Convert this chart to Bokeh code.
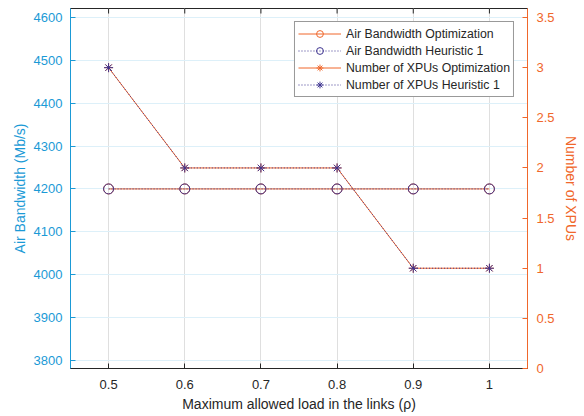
from bokeh.plotting import figure
from bokeh.models import Range1d, LinearAxis, FixedTicker, Legend, LegendItem
from bokeh.embed import file_html
from bokeh.resources import INLINE

# ---- data ----
load = [0.5, 0.6, 0.7, 0.8, 0.9, 1.0]
bw_opt = [4200, 4200, 4200, 4200, 4200, 4200]
bw_heur = [4200, 4200, 4200, 4200, 4200, 4200]
xpu_opt = [3, 2, 2, 2, 1, 1]
xpu_heur = [3, 2, 2, 2, 1, 1]

x_ticks = [0.5, 0.6, 0.7, 0.8, 0.9, 1.0]
x_tick_labels = ["0.5", "0.6", "0.7", "0.8", "0.9", "1"]
left_ticks = [3800, 3900, 4000, 4100, 4200, 4300, 4400, 4500, 4600]
right_ticks = [0, 0.5, 1, 1.5, 2, 2.5, 3, 3.5]
right_tick_labels = ["0", "0.5", "1", "1.5", "2", "2.5", "3", "3.5"]

labels = ["Air Bandwidth Optimization", "Air Bandwidth Heuristic 1",
          "Number of XPUs Optimization", "Number of XPUs Heuristic 1"]

# ---- style ----
FONT = "Liberation Sans"
BLUE_AX = "#1b9ad6"
ORANGE_AX = "#f0672b"
OPT_C = "#f0672b"
HEUR_C = "#3d338f"
DARK = "#262626"
X_MIN, X_MAX = 0.45, 1.05
Y_MIN, Y_MAX = 3781, 4621
FRAME_W, FRAME_H = 457, 360
TICK_LEN = 5

p = figure(frame_width=FRAME_W, frame_height=FRAME_H, x_range=Range1d(X_MIN, X_MAX),
           y_range=Range1d(Y_MIN, Y_MAX), output_backend="svg",
           toolbar_location=None, min_border_left=70, min_border_right=47,
           min_border_top=8, min_border_bottom=39)
p.extra_y_ranges = {"xpu": Range1d(0, 3.59)}
p.outline_line_color = DARK
p.background_fill_color = "white"
p.border_fill_color = "white"

ax_b = p.below[0]
ax_l = p.left[0]

def style_axis(ax, color, size="13px"):
    ax.axis_line_color = color
    ax.major_tick_line_color = color
    ax.major_tick_in = TICK_LEN
    ax.major_tick_out = 0
    ax.minor_tick_line_color = None
    ax.major_label_text_color = color
    ax.major_label_text_font = FONT
    ax.major_label_text_font_size = size
    ax.axis_label_text_color = color
    ax.axis_label_text_font = FONT
    ax.axis_label_text_font_size = "14px"
    ax.axis_label_text_font_style = "normal"

style_axis(ax_b, DARK)
ax_b.ticker = FixedTicker(ticks=x_ticks)
ax_b.major_label_overrides = {t: l for t, l in zip(x_ticks, x_tick_labels)}
ax_b.axis_label = "Maximum allowed load in the links (ρ)"
ax_b.major_label_standoff = 11
ax_b.axis_label_standoff = 4

style_axis(ax_l, BLUE_AX)
ax_l.ticker = FixedTicker(ticks=left_ticks)
ax_l.axis_label = "Air Bandwidth (Mb/s)"
ax_l.major_label_standoff = 8
ax_l.axis_label_standoff = 3

ax_r = LinearAxis(y_range_name="xpu")
style_axis(ax_r, ORANGE_AX)
ax_r.ticker = FixedTicker(ticks=right_ticks)
ax_r.major_label_overrides = {t: l for t, l in zip(right_ticks, right_tick_labels)}
ax_r.axis_label = "Number of XPUs"
ax_r.major_label_standoff = 9
ax_r.axis_label_standoff = 5
p.add_layout(ax_r, "right")

p.xgrid.grid_line_color = "#dfdfdf"
p.ygrid.grid_line_color = "#ddf0f9"

# top box tick marks (MATLAB "box on" style), length derived from the range
top_tick_len = TICK_LEN * (Y_MAX - Y_MIN) / FRAME_H
p.segment(x0=x_ticks, y0=[Y_MAX] * len(x_ticks), x1=x_ticks,
          y1=[Y_MAX - top_tick_len] * len(x_ticks), line_color=DARK, line_width=1)

# ---- glyphs ----
r1l = p.line(load, bw_opt, line_color=OPT_C, line_width=1)
r1m = p.scatter(load, bw_opt, marker="circle", size=10, line_color=OPT_C,
                fill_color=None, line_width=1)
r3l = p.line(load, xpu_opt, line_color=OPT_C, line_width=1, y_range_name="xpu")
r3m = p.scatter(load, xpu_opt, marker="asterisk", size=9, line_color=OPT_C,
                line_width=1, y_range_name="xpu")
r2l = p.line(load, bw_heur, line_color=HEUR_C, line_width=1, line_dash="1 2")
r2m = p.scatter(load, bw_heur, marker="circle", size=10, line_color=HEUR_C,
                fill_color=None, line_width=1)
r4l = p.line(load, xpu_heur, line_color=HEUR_C, line_width=1, line_dash="1 2",
             y_range_name="xpu")
r4m = p.scatter(load, xpu_heur, marker="asterisk", size=9, line_color=HEUR_C,
                line_width=1, y_range_name="xpu")

legend = Legend(items=[
    LegendItem(label=labels[0], renderers=[r1l, r1m]),
    LegendItem(label=labels[1], renderers=[r2l, r2m]),
    LegendItem(label=labels[2], renderers=[r3l, r3m]),
    LegendItem(label=labels[3], renderers=[r4l, r4m]),
], location="top_right", margin=13, padding=3, spacing=0,
    glyph_width=43, glyph_height=17, label_height=17, label_standoff=5,
    label_text_font=FONT, label_text_font_size="12.3px", label_text_color=DARK,
    border_line_color="#333333", border_line_width=1,
    background_fill_color="white", background_fill_alpha=1)
p.add_layout(legend)

open("out.html", "w").write(file_html(p, INLINE))
